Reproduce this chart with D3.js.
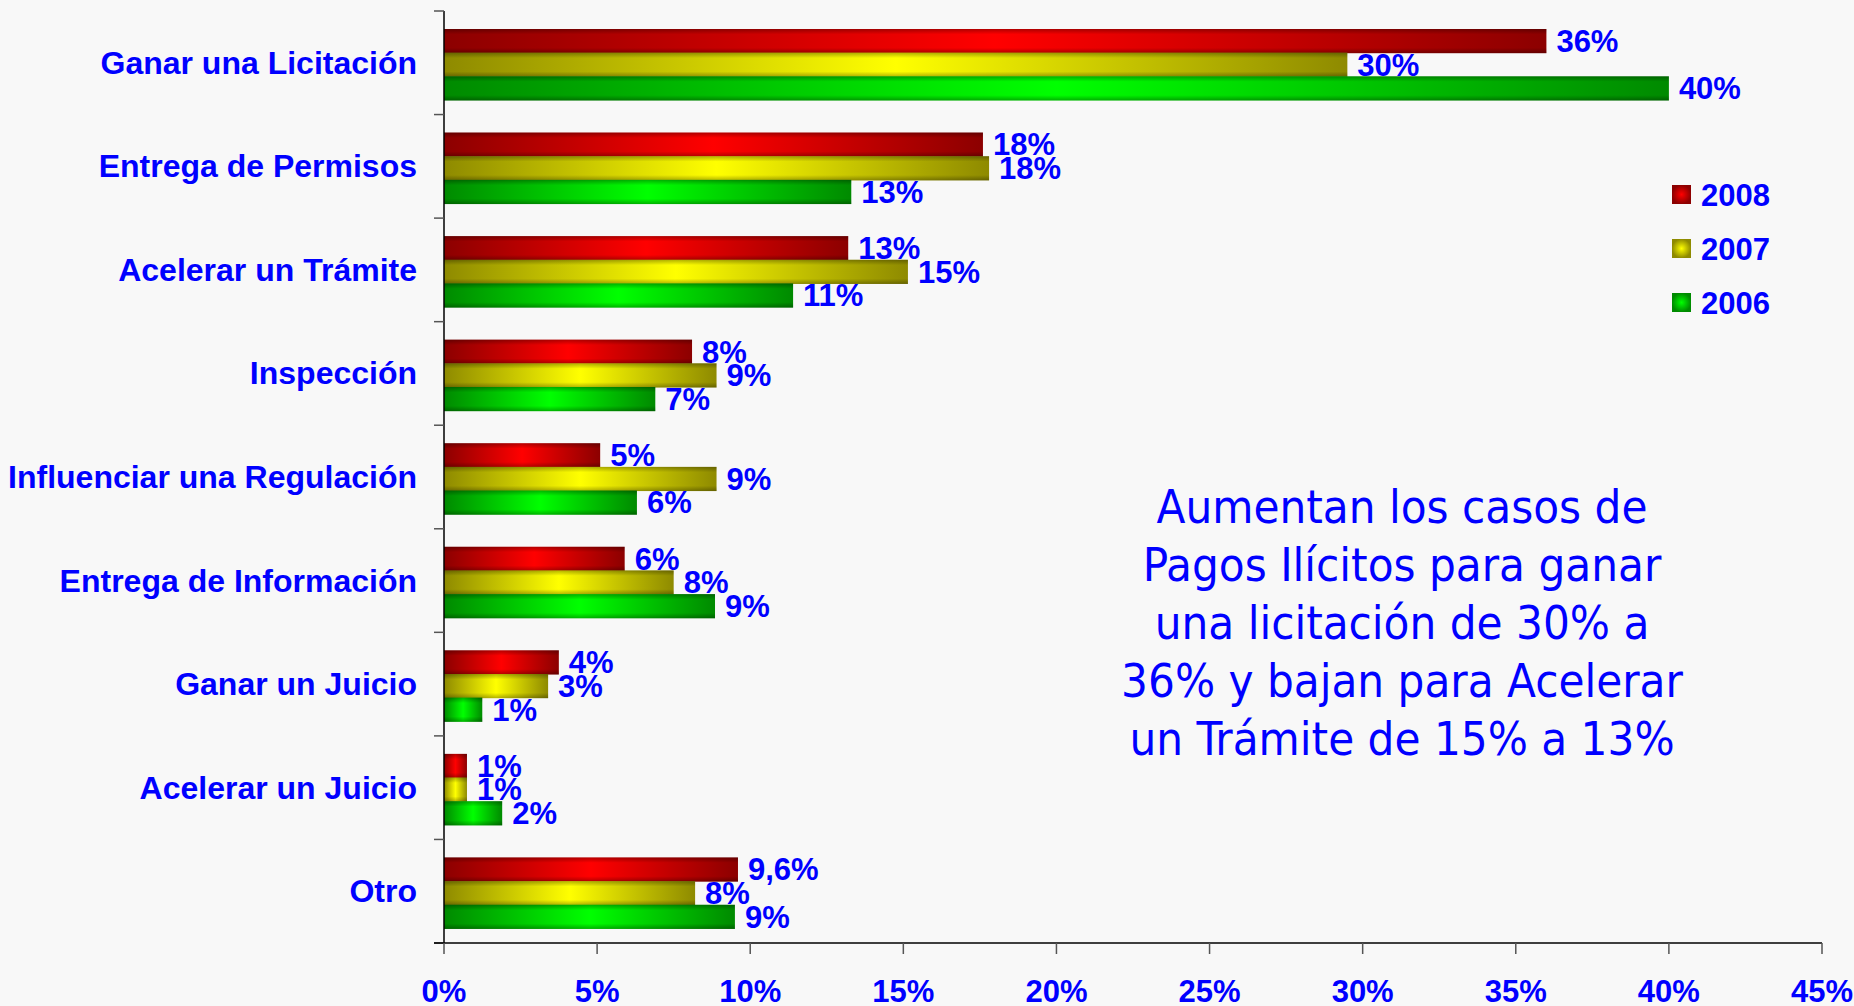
<!DOCTYPE html>
<html>
<head>
  <meta charset="utf-8">
  <script src="https://d3js.org/d3.v7.min.js"></script>
  <style>
    body { margin: 0; background: #f8f8f8; }
    .cat-label { font: bold 32px "Liberation Sans", Arial, sans-serif; fill: #0000ff; text-anchor: end; }
    .val-label { font: bold 31px "Liberation Sans", Arial, sans-serif; fill: #0000ff; }
    .tick-label { font: bold 31px "Liberation Sans", Arial, sans-serif; fill: #0000ff; text-anchor: middle; }
    .legend-label { font: bold 31px "Liberation Sans", Arial, sans-serif; fill: #0000ff; }
    .note { font: 47px "DejaVu Sans Condensed", Tahoma, sans-serif; fill: #0000ff; text-anchor: middle; }
  </style>
</head>
<body>
  <svg width="1854" height="1006"></svg>
  <script>
    var categories = ["Ganar una Licitación", "Entrega de Permisos", "Acelerar un Trámite", "Inspección",
                      "Influenciar una Regulación", "Entrega de Información", "Ganar un Juicio",
                      "Acelerar un Juicio", "Otro"];
    var years = ["2008", "2007", "2006"];
    var values2008 = [36, 17.6, 13.2, 8.1, 5.1, 5.9, 3.75, 0.75, 9.6];
    var values2007 = [29.5, 17.8, 15.15, 8.9, 8.9, 7.5, 3.4, 0.75, 8.2];
    var values2006 = [40, 13.3, 11.4, 6.9, 6.3, 8.85, 1.25, 1.9, 9.5];
    var labels2008 = ["36%", "18%", "13%", "8%", "5%", "6%", "4%", "1%", "9,6%"];
    var labels2007 = ["30%", "18%", "15%", "9%", "9%", "8%", "3%", "1%", "8%"];
    var labels2006 = ["40%", "13%", "11%", "7%", "6%", "9%", "1%", "2%", "9%"];
    var xTicks = [0, 5, 10, 15, 20, 25, 30, 35, 40, 45];
    var noteLines = ["Aumentan los casos de", "Pagos Ilícitos para ganar", "una licitación de 30% a",
                     "36% y bajan para Acelerar", "un Trámite de 15% a 13%"];

    var series = [
      {year: "2008", values: values2008, labels: labels2008, dark: "#8c0000", light: "#ff0000"},
      {year: "2007", values: values2007, labels: labels2007, dark: "#8e8a00", light: "#ffff00"},
      {year: "2006", values: values2006, labels: labels2006, dark: "#008a00", light: "#00ff00"}
    ];

    var svg = d3.select("svg");
    var defs = svg.append("defs");

    series.forEach(function(s, i) {
      var lg = defs.append("linearGradient").attr("id", "h" + i)
        .attr("x1", 0).attr("x2", 1).attr("y1", 0).attr("y2", 0);
      lg.append("stop").attr("offset", "0%").attr("stop-color", s.dark);
      lg.append("stop").attr("offset", "50%").attr("stop-color", s.light);
      lg.append("stop").attr("offset", "100%").attr("stop-color", s.dark);

      var rg = defs.append("radialGradient").attr("id", "r" + i);
      rg.append("stop").attr("offset", "0%").attr("stop-color", s.light);
      rg.append("stop").attr("offset", "100%").attr("stop-color", s.dark);
    });

    // vertical shading on top of each bar
    var vg = defs.append("linearGradient").attr("id", "vshade")
      .attr("x1", 0).attr("x2", 0).attr("y1", 0).attr("y2", 1);
    vg.append("stop").attr("offset", "0%").attr("stop-color", "#000").attr("stop-opacity", 0.3);
    vg.append("stop").attr("offset", "22%").attr("stop-color", "#000").attr("stop-opacity", 0);
    vg.append("stop").attr("offset", "78%").attr("stop-color", "#000").attr("stop-opacity", 0);
    vg.append("stop").attr("offset", "100%").attr("stop-color", "#000").attr("stop-opacity", 0.3);

    var x = d3.scaleLinear().domain([0, 45]).range([444, 1822]);
    var y = d3.scaleBand().domain(categories).range([11, 943]);
    var y1 = d3.scaleBand().domain(years).range([18, 89]);

    // bars
    series.forEach(function(s, i) {
      var g = svg.append("g");
      var rows = categories.map(function(c, k) { return {cat: c, v: s.values[k], label: s.labels[k]}; });
      g.selectAll("rect.bar").data(rows).enter().append("rect")
        .attr("class", "bar")
        .attr("x", x(0))
        .attr("y", d => y(d.cat) + y1(s.year))
        .attr("width", d => x(d.v) - x(0))
        .attr("height", y1.bandwidth() + 0.5)
        .attr("fill", "url(#h" + i + ")");
      g.selectAll("rect.shade").data(rows).enter().append("rect")
        .attr("class", "shade")
        .attr("x", x(0))
        .attr("y", d => y(d.cat) + y1(s.year))
        .attr("width", d => x(d.v) - x(0))
        .attr("height", y1.bandwidth() + 0.5)
        .attr("fill", "url(#vshade)");
    });

    // value labels
    series.forEach(function(s) {
      var rows = categories.map(function(c, k) { return {cat: c, v: s.values[k], label: s.labels[k]}; });
      svg.append("g").selectAll("text").data(rows).enter().append("text")
        .attr("class", "val-label")
        .attr("x", d => x(d.v) + 10)
        .attr("y", d => y(d.cat) + y1(s.year) + y1.bandwidth() / 2 + 11)
        .text(d => d.label);
    });

    // y axis
    var yAxis = svg.append("g");
    yAxis.append("line").attr("x1", x(0)).attr("x2", x(0)).attr("y1", 11).attr("y2", 943)
      .attr("stroke", "#000").attr("stroke-width", 1.5);
    var yTickPos = categories.map(c => y(c)).concat([y.range()[1]]);
    yAxis.selectAll("line.tick").data(yTickPos).enter().append("line")
      .attr("class", "tick")
      .attr("x1", x(0) - 10).attr("x2", x(0))
      .attr("y1", d => d).attr("y2", d => d)
      .attr("stroke", "#555").attr("stroke-width", 1.5);
    yAxis.selectAll("text").data(categories).enter().append("text")
      .attr("class", "cat-label")
      .attr("x", 417)
      .attr("y", d => y(d) + y.bandwidth() / 2 + 11)
      .text(d => d);

    // x axis
    var xAxis = svg.append("g");
    xAxis.append("line").attr("x1", x(0) - 10).attr("x2", x(45)).attr("y1", 943).attr("y2", 943)
      .attr("stroke", "#000").attr("stroke-width", 1.5);
    xAxis.selectAll("line.tick").data(xTicks).enter().append("line")
      .attr("class", "tick")
      .attr("x1", d => x(d)).attr("x2", d => x(d))
      .attr("y1", 943).attr("y2", 954)
      .attr("stroke", "#555").attr("stroke-width", 1.5);
    xAxis.selectAll("text").data(xTicks).enter().append("text")
      .attr("class", "tick-label")
      .attr("x", d => x(d))
      .attr("y", 1002)
      .text(d => d + "%");

    // legend
    var legend = svg.append("g").attr("transform", "translate(1672,185)");
    series.forEach(function(s, i) {
      var row = legend.append("g").attr("transform", "translate(0," + (i * 54) + ")");
      row.append("rect").attr("width", 19).attr("height", 19).attr("fill", "url(#r" + i + ")");
      row.append("text").attr("class", "legend-label").attr("x", 29).attr("y", 21).text(s.year);
    });

    // note
    svg.append("g").selectAll("text").data(noteLines).enter().append("text")
      .attr("class", "note")
      .attr("x", 1402)
      .attr("y", (d, i) => 523 + i * 58)
      .text(d => d);
  </script>
</body>
</html>
